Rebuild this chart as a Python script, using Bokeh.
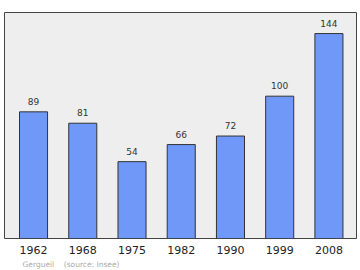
from bokeh.plotting import figure
from bokeh.models import ColumnDataSource, FixedTicker, Range1d, Title
from bokeh.core.properties import value
from bokeh.embed import file_html
from bokeh.resources import INLINE

years = ["1962", "1968", "1975", "1982", "1990", "1999", "2008"]
population = [89, 81, 54, 66, 72, 100, 144]
source_note = "Gergueil\u00a0\u00a0\u00a0\u00a0(source: Insee)"

xs = list(range(len(years)))
src = ColumnDataSource(dict(x=xs, top=population, lab=[str(v) for v in population]))

p = figure(width=360, height=270, output_backend="svg", toolbar_location=None,
           x_range=Range1d(-0.59, 6.56), y_range=Range1d(0, 158.8),
           min_border_left=4, min_border_right=4, min_border_top=12, min_border_bottom=0)
p.background_fill_color = "#eeeeee"
p.border_fill_color = "white"
p.outline_line_color = "#444444"
p.outline_line_width = 1
p.grid.visible = False
p.yaxis.visible = False

p.vbar(x="x", top="top", width=0.57, bottom=0, source=src,
       fill_color="#6f98f8", line_color="#333333", line_width=1)
p.text(x="x", y="top", text="lab", source=src, text_align="center",
       text_baseline="bottom", y_offset=-7, text_font_size="9px",
       text_color="#333333", text_font=value("DejaVu Sans"))

ax = p.xaxis[0]
ax.ticker = FixedTicker(ticks=xs)
ax.major_label_overrides = {i: y for i, y in enumerate(years)}
ax.axis_line_color = None
ax.major_tick_line_color = None
ax.minor_tick_line_color = None
ax.major_tick_out = 0
ax.major_tick_in = 0
ax.major_label_text_font_size = "11px"
ax.major_label_text_color = "#222222"
ax.major_label_text_font = "DejaVu Sans"
ax.major_label_standoff = 7

p.add_layout(Title(text=source_note, align="left", offset=18, standoff=3,
                   text_font_size="7.5px", text_color="#aaaaaa", text_font="DejaVu Sans",
                   text_font_style="normal"), "below")

open("out.html", "w").write(file_html(p, INLINE))
